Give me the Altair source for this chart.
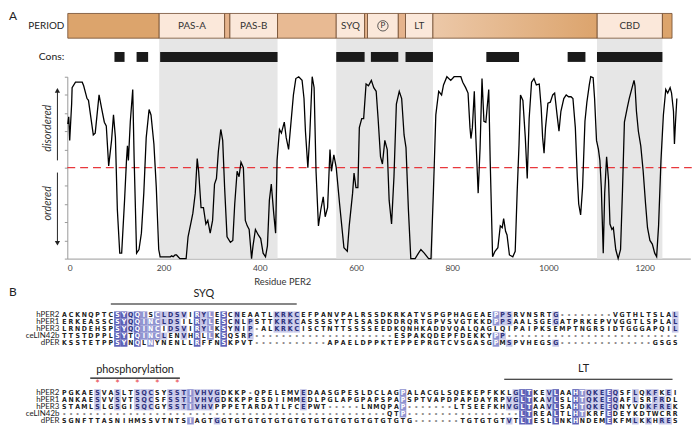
import altair as alt
import pandas as pd

# ---------------- Panel A data ----------------
DOMAIN_START = [1, 191, 327, 338, 437, 559, 618, 624, 688, 703, 760, 1101, 1237]
DOMAIN_END = [191, 327, 338, 437, 559, 618, 624, 688, 703, 760, 1101, 1237, 1257]
DOMAIN_LABEL = ["", "PAS-A", "", "PAS-B", "", "SYQ", "", "P", "", "LT", "", "CBD", ""]
DOMAIN_FILL = ["#dca46c", "#fbe8da", "#e5b38c", "#fbe8da", "#e8ba93", "#fbe8da", "#e5b38c",
               "#fbe8da", "#e5b38c", "#fbe8da", "gradient", "#fbe8da", "#dca46c"]

CONS_START = [98, 144, 193, 559, 631, 703, 871, 1040, 1101]
CONS_END = [119, 168, 437, 618, 688, 760, 939, 1077, 1237]

SHADE_START = [191, 559, 1101]
SHADE_END = [437, 760, 1237]

RES = [1, 3, 5, 9, 10, 17, 24, 31, 34, 41, 44, 54, 58, 66, 71, 77, 81, 86, 92, 96, 100, 104, 109, 113,
       119, 123, 125, 127, 131, 136, 139, 144, 149, 154, 159, 164, 170, 174, 180, 185, 190, 193, 200,
       214, 217, 220, 224, 227, 234, 247, 251, 258, 261, 266, 270, 273, 278, 283, 288, 292, 297, 302,
       306, 310, 314, 319, 323, 327, 332, 339, 344, 348, 353, 357, 361, 366, 370, 374, 378, 383, 386,
       391, 397, 402, 407, 412, 416, 420, 424, 429, 433, 436, 441, 445, 451, 455, 460, 464, 470, 475,
       481, 488, 492, 495, 500, 504, 509, 513, 517, 522, 527, 532, 536, 541, 546, 549, 554, 559, 566,
       575, 582, 586, 593, 596, 600, 604, 607, 612, 616, 621, 626, 632, 637, 642, 646, 651, 655, 660,
       665, 669, 674, 679, 684, 690, 695, 700, 704, 709, 714, 723, 730, 735, 742, 751, 756, 761, 766,
       772, 778, 782, 789, 797, 804, 818, 822, 828, 833, 837, 839, 842, 846, 849, 854, 858, 862, 866,
       870, 876, 879, 884, 889, 895, 900, 904, 907, 911, 914, 919, 926, 931, 935, 939, 942, 947, 952,
       956, 960, 965, 970, 975, 981, 985, 988, 991, 994, 999, 1004, 1009, 1013, 1018, 1022, 1026, 1032,
       1037, 1042, 1047, 1051, 1056, 1060, 1063, 1067, 1071, 1076, 1080, 1085, 1088, 1093, 1096, 1100,
       1104, 1107, 1110, 1114, 1117, 1121, 1125, 1128, 1132, 1135, 1140, 1145, 1150, 1154, 1158, 1164,
       1168, 1173, 1178, 1180, 1183, 1187, 1192, 1197, 1202, 1206, 1211, 1216, 1221, 1225, 1229, 1234,
       1239, 1244, 1248, 1253, 1256, 1260, 1262, 1264, 1267]
DISORDER = [0.74, 0.78, 0.65, 0.85, 0.94, 0.97, 0.97, 0.97, 0.95, 0.88, 0.87, 0.68, 0.69, 0.90, 0.83,
            0.75, 0.73, 0.51, 0.65, 0.79, 0.665, 0.27, 0.03, 0.03, 0.32, 0.54, 0.62, 0.54, 0.755, 0.93,
            0.54, 0.03, 0.05, 0.14, 0.36, 0.665, 0.82, 0.79, 0.63, 0.39, 0.05, 0.01, 0.01, 0.01, 0.015,
            0.01, 0.02, 0.02, 0.0, 0.0, 0.12, 0.21, 0.25, 0.36, 0.55, 0.48, 0.28, 0.28, 0.19, 0.21, 0.14,
            0.21, 0.41, 0.44, 0.59, 0.71, 0.65, 0.39, 0.12, 0.09, 0.10, 0.30, 0.48, 0.45, 0.53, 0.50,
            0.21, 0.18, 0.16, 0.0, 0.07, 0.16, 0.13, 0.11, 0.03, 0.01, 0.07, 0.32, 0.41, 0.25, 0.14, 0.54,
            0.71, 0.69, 0.75, 0.665, 0.60, 0.72, 0.90, 0.99, 1.0, 0.98, 0.88, 0.70, 0.50, 0.68, 1.0, 0.94,
            0.48, 0.18, 0.27, 0.34, 0.23, 0.28, 0.60, 0.48, 0.57, 0.50, 0.30,
            0.06, 0.04, 0.18, 0.36, 0.47, 0.39, 0.39, 0.72, 0.77, 0.77, 0.96, 0.95, 0.98, 0.94, 0.92,
            0.77, 0.56, 0.52, 0.65, 0.60, 0.32, 0.19, 0.45, 0.85, 0.92, 0.88, 0.68, 0.61, 0.27, 0.0, 0.0,
            0.03, 0.05, 0.03, 0.0, 0.0, 0.37, 0.79, 0.92, 0.90, 0.955, 1.0, 0.98, 1.0, 1.0, 0.97, 0.94,
            0.91, 0.72, 0.66, 0.72, 0.92, 0.68, 0.36, 0.61, 0.99, 0.755, 0.75, 0.93, 0.54, 0.01, 0.04,
            0.06, 0.18, 0.17, 0.22, 0.15, 0.13, 0.02, 0.01, 0.04, 0.36, 0.63, 0.90, 0.87, 0.665, 0.44,
            0.77, 0.97, 0.99, 0.955, 0.96, 0.83, 0.665, 0.58, 0.72, 0.855, 0.86, 0.90, 0.91, 0.79, 0.70,
            0.81, 0.88, 0.90, 0.89, 0.89, 0.88, 0.72, 0.45, 0.30, 0.24, 0.39, 0.755, 0.86, 0.955, 1.0,
            0.995, 0.88, 0.65, 0.60, 0.54, 0.39, 0.03, 0.36, 0.56, 0.43, 0.19, 0.16, 0.17, 0.05, 0.0,
            0.05, 0.375, 0.75, 0.83, 0.88, 0.93, 0.98, 0.95, 0.81, 0.70, 0.62, 0.48, 0.30, 0.17, 0.10,
            0.08, 0.03, 0.01, 0.18, 0.54, 0.79, 0.93, 0.91, 0.94, 0.91, 0.81, 0.63, 0.74, 0.88]

X_TICKS = [0, 200, 400, 600, 800, 1000, 1200]
Y_TICKS = [0.0, 0.1, 0.2, 0.3, 0.4, 0.5, 0.6, 0.7, 0.8, 0.9, 1.0]
THRESHOLD = 0.5

# ---------------- Panel B data ----------------
NAMES = ["hPER2", "hPER1", "hPER3", "ceLIN42b", "dPER"]
TOP_SEQ = [
    "ACKNQPTC" + "SYQQISCLDSVIRYLESCNEAATLKRKC" + "EFPANVP" + "ALRSSDKRKATVSPGPHAGEAE" + "PPSRVNSRTG" + "--------" + "VGTHLTSLAL",
    "ERKEASSC" + "SYQQINCLDSILRYLESCNLPSTTKRKC" + "ASSSSYT" + "TSSASDDDRQRTGPVSVGTKKD" + "PPSAALSGEGATPRKEPVVGGTLSPLAL",
    "LRNDEHSP" + "SYQQINCIDSVIRYLKSYNIP-ALKRKC" + "ISCTNTT" + "SSSSEEDKQNHKADDVQALQAG" + "LQIPAIPKSEMPTNGRSIDTGGGAPQIL",
    "TTSTDPPL" + "SYTQINCLENVHRLLKSQSRP" + "---------------------" + "ESPAKQDEPFDEKKY" + "PP" + "--------------------------",
    "KSSTETPP" + "SYNQLNYNENLLRFFNSKPVT" + "-----------" + "APA" + "ELDPPKTEPPEPRGTCVSGASG" + "PMSPVHEGSG" + "--------------" + "GSGS",
]
BOTTOM_SEQ = [
    "PGKAESVASLTSQCSYSSTIVHVGDKKP-QPELEMVEDAASGP" + "ESLDCLAGP" + "ALACGLSQEKEPFKKLG" + "LTKEVLAAHTQKEEQSFLQKFKEI",
    "ANKAESVVSVTSQCSFSSTIVHVGDKKPPESDIIMMEDLPGLA" + "PGPAPSPAP" + "SPTVAPDPAPDAYRPVG" + "LTKAVLSLHTQKEEQAFLSRFRDL",
    "STAMLSLGSGISQCGYSSTIVHVPPPETARDATLFCEPWT---" + "--LNMQPAP" + "-------LTSEEFKHVG" + "LTAAVLSAHTQKEEQNYVDKFREK",
    "-------------------------------------------------" + "QTP" + "-----------------" + "LTREALTLHTKRFEDEYKDTWCRR",
    "SGNFTTASNIHMSSVTNTSIAGTGGTGTGTGTGTGTGTGTGTG" + "TGTGTGTGTG" + "-------" + "TGTGTGTVT" + "LTESLLNKHNDEMEKFMLKKHRES",
]
NCOL = 93
PHOSPHO_COLS = [6, 9, 12, 15, 18]
REGION_TEXT = ["SYQ", "phosphorylation", "LT"]
REGION_FROM = [8.0, 4.9, 67.25]
REGION_TO = [36.0, 18.4, 92.6]
REGION_LINE = [-1.55, 8.95, 9.1]
REGION_TEXT_LINE = [-2.9, 7.8, 7.6]

# ---------------- build tables ----------------
FONT = "Lato"
SEQFONT = "'Liberation Sans Narrow', 'DejaVu Sans Condensed', sans-serif"

XS = alt.Scale(domain=[0, 1295], range=[60, 690.3], nice=False, zero=False)
YS = alt.Scale(domain=[0, 1], range=[251, 67], nice=False, zero=False)
CS = alt.Scale(domain=[1, 93], range=[57, 675], nice=False, zero=False)
LS = alt.Scale(domain=[0, 15], range=[308, 415.25], nice=False, zero=False)

dom = pd.DataFrame({"s": DOMAIN_START, "e": DOMAIN_END, "label": DOMAIN_LABEL, "fill": DOMAIN_FILL})
dom["mid"] = (dom.s + dom.e) / 2
cons = pd.DataFrame({"s": CONS_START, "e": CONS_END})
shade = pd.DataFrame({"s": SHADE_START, "e": SHADE_END})
curve = pd.DataFrame({"res": RES, "val": DISORDER})

def fix(s):
    return (s + "-" * NCOL)[:NCOL]

rows = []
for block, seqs in enumerate([TOP_SEQ, BOTTOM_SEQ]):
    seqs = [fix(s) for s in seqs]
    for c in range(NCOL):
        column = [s[c] for s in seqs]
        counts = {}
        for ch in column:
            if ch != "-":
                counts[ch] = counts.get(ch, 0) + 1
        if counts:
            mode = max(counts, key=counts.get)
            n = counts[mode]
        else:
            mode, n = None, 0
        frac = n / len(seqs)
        level = 3 if frac > 0.8 else 2 if frac > 0.6 else 1 if frac > 0.4 else 0
        for r, ch in enumerate(column):
            lv = level if ch == mode else 0
            rows.append(dict(col=c + 1, line=r + 11 * block, ch=ch, level=lv))
cells = pd.DataFrame(rows)
cells["x1"] = cells.col - 0.5
cells["x2"] = cells.col + 0.5
cells["y1"] = cells.line - 0.5
cells["y2"] = cells.line + 0.5
cells["tcol"] = cells.level.map({0: "#222222", 1: "#2b2f7a", 2: "#ffffff", 3: "#ffffff"})

names = pd.DataFrame({"name": NAMES * 2, "line": list(range(5)) + list(range(11, 16))})
regions = pd.DataFrame({"t": REGION_TEXT, "c1": REGION_FROM, "c2": REGION_TO,
                        "line": REGION_LINE, "tline": REGION_TEXT_LINE})
regions["cm"] = (regions.c1 + regions.c2) / 2
regions.loc[regions.t == "LT", "cm"] = 79.2
stars = pd.DataFrame({"col": PHOSPHO_COLS, "line": [9.85] * len(PHOSPHO_COLS), "t": ["*"] * len(PHOSPHO_COLS)})


def label(text, x, y, **kw):
    return alt.Chart(pd.DataFrame({"t": [text]})).mark_text(**kw).encode(
        text="t:N", x=alt.value(x), y=alt.value(y))


# ---------------- Panel A layers ----------------
bands = alt.Chart(shade).mark_rect(color="#e6e6e6").encode(
    x=alt.X("s:Q", scale=XS, axis=None), x2="e:Q", y=alt.value(28), y2=alt.value(251))

dom_solid = alt.Chart(dom[dom.fill != "gradient"]).mark_rect(stroke="#6e4a2e", strokeWidth=0.8).encode(
    x=alt.X("s:Q", scale=XS, axis=None), x2="e:Q", y=alt.value(3), y2=alt.value(28),
    fill=alt.Fill("fill:N", scale=None))
dom_grad = alt.Chart(dom[dom.fill == "gradient"]).mark_rect(
    stroke="#6e4a2e", strokeWidth=0.8,
    fill=alt.Gradient(gradient="linear",
                      stops=[alt.GradientStop(color="#ecc8a8", offset=0),
                             alt.GradientStop(color="#dca46d", offset=1)],
                      x1=0, x2=1, y1=0, y2=0)).encode(
    x=alt.X("s:Q", scale=XS, axis=None), x2="e:Q", y=alt.value(3), y2=alt.value(28))
dom_text = alt.Chart(dom[(dom.label != "") & (dom.label != "P")]).mark_text(
    font=FONT, fontSize=10, color="#333333", baseline="middle").encode(
    x=alt.X("mid:Q", scale=XS, axis=None), y=alt.value(16), text="label:N")
p_text = alt.Chart(dom[dom.label == "P"]).mark_text(
    font=FONT, fontSize=8, color="#333333", baseline="middle").encode(
    x=alt.X("mid:Q", scale=XS, axis=None), y=alt.value(16), text="label:N")
p_circle = alt.Chart(dom[dom.label == "P"]).mark_point(
    shape="circle", filled=False, stroke="#333333", strokeWidth=0.8, size=110, opacity=1).encode(
    x=alt.X("mid:Q", scale=XS, axis=None), y=alt.value(15.5))

cons_bars = alt.Chart(cons).mark_rect(color="#1a1a1a").encode(
    x=alt.X("s:Q", scale=XS, axis=None), x2="e:Q", y=alt.value(42), y2=alt.value(52))

thr = alt.Chart(pd.DataFrame({"a": [0], "b": [1298], "y": [THRESHOLD]})).mark_rule(
    color="#e8383d", strokeDash=[8, 5], strokeWidth=1.3).encode(
    x=alt.X("a:Q", scale=XS, axis=None), x2="b:Q", y=alt.Y("y:Q", scale=YS, axis=None))

line = alt.Chart(curve).mark_line(color="#000000", strokeWidth=1.3).encode(
    x=alt.X("res:Q", scale=XS, axis=alt.Axis(orient="bottom", offset=-182, values=X_TICKS, grid=False,
                                             ticks=False, labelFont=FONT, labelFontSize=8.5, format="d",
                                             labelColor="#444444", domainColor="#999999",
                                             labelPadding=5, title=None)),
    y=alt.Y("val:Q", scale=YS, axis=alt.Axis(orient="left", offset=-60, values=Y_TICKS, labels=False,
                                             grid=False, tickSize=3, tickColor="#999999",
                                             domainColor="#999999", title=None)),
    order="res:Q")

arrows = alt.Chart(pd.DataFrame({"y1": [0.54, 0.08], "y2": [0.93, 0.473]})).mark_rule(
    color="#222222", strokeWidth=1).encode(
    x=alt.value(50), y=alt.Y("y1:Q", scale=YS, axis=None), y2="y2:Q")
heads = alt.Chart(pd.DataFrame({"y": [0.925, 0.085], "shape": ["triangle-up", "triangle-down"]})).mark_point(
    filled=True, color="#222222", size=28, opacity=1).encode(
    x=alt.value(50), y=alt.Y("y:Q", scale=YS, axis=None), shape=alt.Shape("shape:N", scale=None))
side_text = alt.Chart(pd.DataFrame({"t": ["disordered", "ordered"], "y": [0.717, 0.304]})).mark_text(
    angle=270, fontStyle="italic", font=FONT, fontSize=11, color="#333333", baseline="middle").encode(
    x=alt.value(40), y=alt.Y("y:Q", scale=YS, axis=None), text="t:N")

# ---------------- Panel B layers ----------------
hl = alt.Chart(cells[cells.level > 0]).mark_rect().encode(
    x=alt.X("x1:Q", scale=CS, axis=None), x2="x2:Q",
    y=alt.Y("y1:Q", scale=LS, axis=None), y2="y2:Q",
    fill=alt.Fill("level:O", scale=alt.Scale(domain=[1, 2, 3], range=["#c6c7e8", "#9194d1", "#5f62b8"]),
                  legend=None))
letters = alt.Chart(cells).mark_text(font=SEQFONT, fontSize=7, fontWeight="bold", baseline="middle").encode(
    x=alt.X("col:Q", scale=CS, axis=None), y=alt.Y("line:Q", scale=LS, axis=None),
    text="ch:N", color=alt.Color("tcol:N", scale=None))
name_text = alt.Chart(names).mark_text(font=FONT, fontSize=8, align="right", baseline="middle",
                                       color="#222222").encode(
    x=alt.value(52), y=alt.Y("line:Q", scale=LS, axis=None), text="name:N")
reg_rules = alt.Chart(regions).mark_rule(color="#111111", strokeWidth=1.2).encode(
    x=alt.X("c1:Q", scale=CS, axis=None), x2="c2:Q", y=alt.Y("line:Q", scale=LS, axis=None))
reg_text = alt.Chart(regions).mark_text(font=FONT, fontSize=11, color="#222222", baseline="middle").encode(
    x=alt.X("cm:Q", scale=CS, axis=None), y=alt.Y("tline:Q", scale=LS, axis=None), text="t:N")
star_text = alt.Chart(stars).mark_text(font=FONT, fontSize=11, color="#e8464b", baseline="middle").encode(
    x=alt.X("col:Q", scale=CS, axis=None), y=alt.Y("line:Q", scale=LS, axis=None), text="t:N")

# ---------------- static labels ----------------
lab_A = label("A", 1, 6, font=FONT, fontSize=12, align="left", baseline="middle", color="#222222")
lab_B = label("B", 1, 285, font=FONT, fontSize=12, align="left", baseline="middle", color="#222222")
lab_period = label("PERIOD", 57, 15.5, font=FONT, fontSize=10, align="right", baseline="middle", color="#222222")
lab_cons = label("Cons:", 57, 47, font=FONT, fontSize=10.5, align="right", baseline="middle", color="#222222")
lab_xt = label("Residue PER2", 278, 275, font=FONT, fontSize=9.5, align="center", baseline="middle", color="#333333")

chart = alt.layer(
    bands, dom_solid, dom_grad, dom_text, p_circle, p_text, cons_bars, thr, line, arrows, heads, side_text,
    hl, letters, name_text, reg_rules, reg_text, star_text,
    lab_A, lab_B, lab_period, lab_cons, lab_xt,
).resolve_scale(
    x="independent", y="independent", color="independent", fill="independent", shape="independent"
).properties(
    width=692, height=433, autosize=alt.AutoSizeParams(type="none"),
    padding={"left": 0, "top": 0, "right": 0, "bottom": 0},
).configure_view(strokeWidth=0)

chart.save("out.html", embed_options={"renderer": "svg", "actions": False})
